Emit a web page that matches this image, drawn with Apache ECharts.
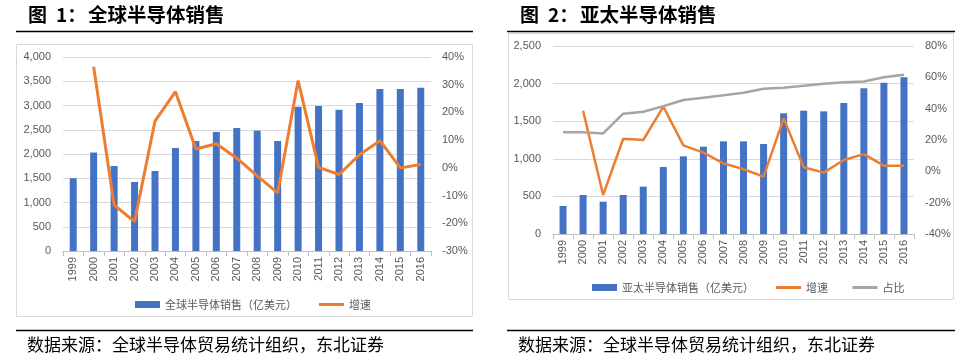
<!DOCTYPE html>
<html><head><meta charset="utf-8">
<script src="https://cdn.jsdelivr.net/npm/echarts@6/dist/echarts.min.js"></script>
<style>html,body{margin:0;padding:0;background:#fff}#c{width:972px;height:361px}</style>
</head><body><div id="c"></div>
<script>
var years = ['1999','2000','2001','2002','2003','2004','2005','2006','2007','2008','2009','2010','2011','2012','2013','2014','2015','2016'];
var globalSales = [1500,2030,1752,1423,1650,2125,2268,2455,2536,2481,2268,2976,2990,2914,3052,3340,3340,3368];
var globalGrowth = [null,36.5,-13.4,-19.4,16.9,27.5,6.8,8.7,3.5,-2.9,-9.0,31.5,0.2,-2.4,4.7,9.8,0.0,1.2];
var apSales = [372,519,430,519,630,891,1033,1161,1232,1232,1197,1605,1640,1631,1742,1937,2012,2083];
var apGrowth = [null,38.7,-15.1,20.8,20.0,41.3,16.6,11.9,5.1,1.3,-3.4,33.8,2.6,-0.8,7.2,11.0,3.6,3.6];
var apShare = [24.9,24.9,24.2,36.8,38.0,41.5,45.5,47.0,48.5,50.2,52.7,53.4,54.6,55.9,56.8,57.4,60.0,61.7];

var titleFig = '图';
var titleNums = ['1：','2：'];
var titleNames = ['全球半导体销售','亚太半导体销售'];
var sourceText = '数据来源：全球半导体贸易统计组织，东北证券';
var names = {gs:'全球半导体销售（亿美元）', gg:'增速', as:'亚太半导体销售（亿美元）', ag:'增速 ', ash:'占比'};

var BLUE='#4472C4', ORANGE='#ED7D31', GRAY='#A5A5A5', TXT='#595959', GRID='#D9D9D9';
var numFont = 'Liberation Sans';
var cjk = 'Noto Sans CJK SC';
var lineIcon = 'path://M0,0 L26,0 L26,3.2 L0,3.2 Z';

function fmtNum(v){ return v.toString().replace(/\B(?=(\d{3})+(?!\d))/g, ','); }

var chart = echarts.init(document.getElementById('c'), null, {renderer:'canvas'});

function xAx(gi){
  return {type:'category', gridIndex:gi, data:years, boundaryGap:true,
    axisLine:{show:true, lineStyle:{color:'#BFBFBF', width:1}},
    axisTick:{show:true, alignWithLabel:false, length:5, lineStyle:{color:'#BFBFBF'}},
    axisLabel:{rotate:90, color:TXT, fontFamily:numFont, fontSize:11, margin:6, interval:0}};
}
function yAx(gi, min, max, itv, pos, fmt, split){
  return {type:'value', gridIndex:gi, position:pos, min:min, max:max, interval:itv,
    axisLine:{show:false}, axisTick:{show:false},
    splitLine:{show:split, lineStyle:{color:GRID, width:1}},
    axisLabel:{color:TXT, fontFamily:numFont, fontSize:11, margin:pos==='left'?12:11, formatter:fmt}};
}
function titleGraphics(x0){
  var f = 'bold 19px "Noto Sans CJK SC"';
  return [
    {type:'text', left:x0, top:5, style:{text:titleFig, fill:'#000', font:f}},
    {type:'text', left:x0+28, top:5, style:{text:titleNums[x0<400?0:1], fill:'#000', font:f}},
    {type:'text', left:x0+60, top:5, style:{text:titleNames[x0<400?0:1], fill:'#000', font:'bold 19.5px "Noto Sans CJK SC"'}}
  ];
}

var option = {
  animation:false,
  textStyle:{fontFamily:numFont},
  grid:[
    {left:63, right:541, top:57, bottom:110},
    {left:553, right:58, top:46, bottom:127}
  ],
  xAxis:[xAx(0), xAx(1)],
  yAxis:[
    yAx(0,0,4000,500,'left',fmtNum,true),
    yAx(0,-30,40,10,'right','{value}%',false),
    yAx(1,0,2500,500,'left',fmtNum,true),
    yAx(1,-40,80,20,'right','{value}%',false)
  ],
  legend:[
    {left:130, top:294, itemWidth:25, itemHeight:7, itemGap:22,
     textStyle:{color:TXT, fontFamily:cjk, fontSize:11},
     data:[{name:names.gs, icon:'rect'}, {name:names.gg, icon:lineIcon}]},
    {left:587, top:277, itemWidth:25, itemHeight:7, itemGap:22,
     textStyle:{color:TXT, fontFamily:cjk, fontSize:11},
     data:[{name:names.as, icon:'rect'}, {name:names.ag, icon:lineIcon}, {name:names.ash, icon:lineIcon}]}
  ],
  series:[
    {name:names.gs, type:'bar', xAxisIndex:0, yAxisIndex:0, data:globalSales, barWidth:7, itemStyle:{color:BLUE}},
    {name:names.gg, type:'line', xAxisIndex:0, yAxisIndex:1, data:globalGrowth, symbol:'none', lineStyle:{color:ORANGE, width:3}, itemStyle:{color:ORANGE}},
    {name:names.as, type:'bar', xAxisIndex:1, yAxisIndex:2, data:apSales, barWidth:7, itemStyle:{color:BLUE}},
    {name:names.ag, type:'line', xAxisIndex:1, yAxisIndex:3, data:apGrowth, symbol:'none', lineStyle:{color:ORANGE, width:2.5}, itemStyle:{color:ORANGE}},
    {name:names.ash, type:'line', xAxisIndex:1, yAxisIndex:3, data:apShare, symbol:'none', lineStyle:{color:GRAY, width:2.5}, itemStyle:{color:GRAY}}
  ],
  graphic:[].concat(titleGraphics(28), titleGraphics(520), [
    {type:'line', shape:{x1:16,y1:31.5,x2:473,y2:31.5}, style:{stroke:'#000', lineWidth:1.5}},
    {type:'line', shape:{x1:507,y1:31.5,x2:955,y2:31.5}, style:{stroke:'#000', lineWidth:1.5}},
    {type:'rect', shape:{x:16.5,y:44.5,width:456,height:272}, style:{fill:'none', stroke:'#D9D9D9', lineWidth:1}, z:-1},
    {type:'rect', shape:{x:508.5,y:33.5,width:445,height:266}, style:{fill:'none', stroke:'#D9D9D9', lineWidth:1}, z:-1},
    {type:'line', shape:{x1:16,y1:330.5,x2:473,y2:330.5}, style:{stroke:'#000', lineWidth:1.5}},
    {type:'line', shape:{x1:507,y1:330.5,x2:955,y2:330.5}, style:{stroke:'#000', lineWidth:1.5}},
    {type:'text', left:27, top:336, style:{text:sourceText, fill:'#000', font:'17px "Noto Sans CJK SC"'}},
    {type:'text', left:518, top:336, style:{text:sourceText, fill:'#000', font:'17px "Noto Sans CJK SC"'}}
  ])
};
chart.setOption(option);
</script></body></html>
